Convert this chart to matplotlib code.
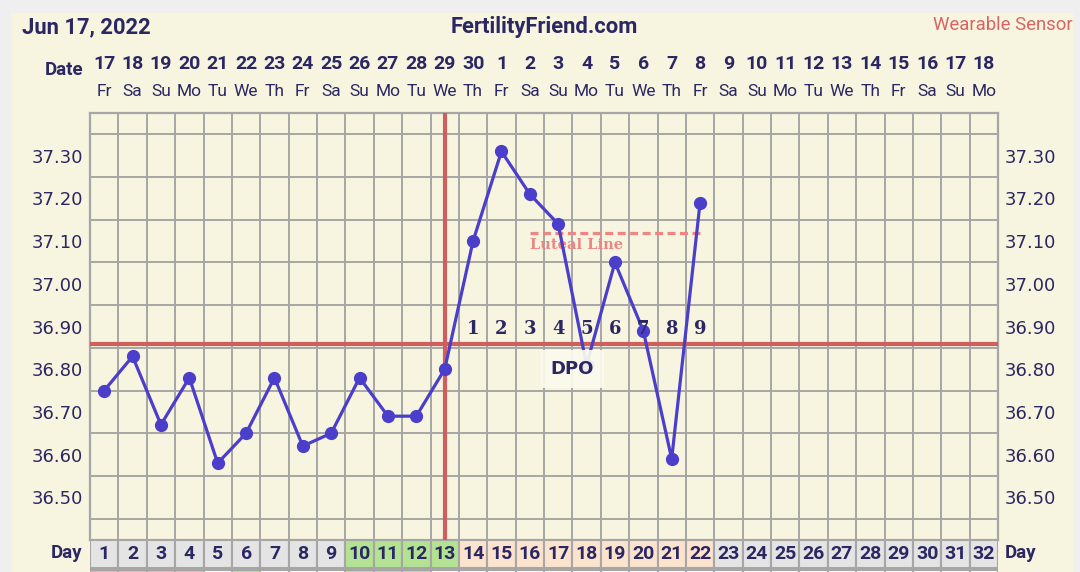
import numpy as np
import matplotlib
matplotlib.use('Agg')
import matplotlib.pyplot as plt
from matplotlib.patches import Rectangle
from matplotlib.transforms import blended_transform_factory

# chart data
days = list(range(1, 23))
temps = [36.75, 36.83, 36.67, 36.78, 36.58, 36.65, 36.78, 36.62, 36.65, 36.78, 36.69,
         36.69, 36.80, 37.10, 37.31, 37.21, 37.14, 36.81, 37.05, 36.89, 36.59, 37.19]
dates = [17, 18, 19, 20, 21, 22, 23, 24, 25, 26, 27, 28, 29, 30,
         1, 2, 3, 4, 5, 6, 7, 8, 9, 10, 11, 12, 13, 14, 15, 16, 17, 18]
weekdays = ['Fr', 'Sa', 'Su', 'Mo', 'Tu', 'We', 'Th'] * 5
weekdays = weekdays[:32]
coverline = 36.86
ovulation_day = 13
luteal_days = [16, 22]
luteal_temp = 37.12
dpo_days = list(range(14, 23))
dpo_labels = [str(i) for i in range(1, 10)]
ytick_vals = [36.50, 36.60, 36.70, 36.80, 36.90, 37.00, 37.10, 37.20, 37.30]
# day row colours: grey, fertile green, luteal peach
day_colors = ['#E4E4E4'] * 9 + ['#B3E293'] * 4 + ['#FCE3CD'] * 9 + ['#E4E4E4'] * 10
row2_colors = ['#EAB3C1'] * 4 + ['#FFFFFF', '#B3E293', '#FFFFFF', '#FFFFFF', '#FFFFFF'] \
    + ['#B3E293'] * 3 + ['#FFFFFF'] * 20

NAVY = '#2B2763'
CREAM = '#F7F5DF'
GRID = '#A6A6A6'
LINE = '#4A3ECB'
RED = '#CF5F5F'

W, H = 1080, 572
fig = plt.figure(figsize=(W / 100, H / 100), dpi=100, facecolor='#EFEFEF')
fig.patches.append(Rectangle((11 / W, 0), (1073 - 11) / W, 1 - 13 / H,
                             transform=fig.transFigure, facecolor=CREAM,
                             edgecolor='none', zorder=-10))

def px(x0, y0, x1, y1):
    return [x0 / W, 1 - y1 / H, (x1 - x0) / W, (y1 - y0) / H]

ax = fig.add_axes(px(90, 113, 998, 540))
ax.set_facecolor(CREAM)
ax.set_xlim(0.5, 32.5)
ax.set_ylim(36.40, 37.40)
ax.set_xticks([])
ax.set_xticks(np.arange(0.5, 33, 1), minor=True)
ax.set_yticks(ytick_vals)
ax.set_yticklabels(['%.2f' % v for v in ytick_vals])
ax.set_yticks(np.arange(36.40, 37.41, 0.05), minor=True)
ax.grid(which='minor', color=GRID, linewidth=1.4)
ax.tick_params(which='both', length=0)
ax.tick_params(axis='y', labelright=True, labelsize=13, labelcolor=NAVY, pad=5)
for s in ax.spines.values():
    s.set_color(GRID)
    s.set_linewidth(1.6)

ax.axhline(coverline, color=RED, linewidth=3, zorder=3)
ax.axvline(ovulation_day, color=RED, linewidth=3, zorder=3)

ax.plot(luteal_days, [luteal_temp] * 2, color='#EE8585', linewidth=2.3,
        dashes=(2.5, 1.4), zorder=3)
ax.text(luteal_days[0], luteal_temp - 0.012, 'Luteal Line', color='#EE8585',
        fontsize=10.5, fontweight='bold', family='DejaVu Serif', va='top', ha='left',
        zorder=4)

ax.plot(days, temps, color=LINE, linewidth=2.3, marker='o', markersize=8.5,
        zorder=5)

for d, lab in zip(dpo_days, dpo_labels):
    ax.text(d, 36.895, lab, color=NAVY, fontsize=13, fontweight='bold',
            family='DejaVu Serif', ha='center', va='center', zorder=6)
ax.text(17.5, 36.80, 'DPO', color=NAVY, fontsize=13, fontweight='bold',
        ha='center', va='center', zorder=7,
        bbox=dict(boxstyle='square,pad=0.55', facecolor='#FBFAEE',
                  edgecolor='none', alpha=0.92))

# header
fig.text(22 / W, 1 - 27 / H, 'Jun 17, 2022', color=NAVY, fontsize=15.8,
         fontweight='bold', family='Roboto', ha='left', va='center')
fig.text(544 / W, 1 - 27 / H, 'FertilityFriend.com', color=NAVY, fontsize=15.8,
         fontweight='bold', family='Roboto', ha='center', va='center')
fig.text(1073 / W, 1 - 25 / H, 'Wearable Sensor', color='#D96464', fontsize=13.3,
         family='Roboto', ha='right', va='center')

tr = blended_transform_factory(ax.transData, fig.transFigure)
fig.text(83 / W, 1 - 70 / H, 'Date', color=NAVY, fontsize=13.5, fontweight='bold',
         family='Roboto', ha='right', va='center')
for i, (dt, wd) in enumerate(zip(dates, weekdays)):
    ax.text(i + 1, 1 - 64 / H, str(dt), transform=tr, color=NAVY, fontsize=14,
            fontweight='bold', family='Roboto', ha='center', va='center')
    ax.text(i + 1, 1 - 92 / H, wd, transform=tr, color=NAVY, fontsize=12.5,
            family='Roboto', ha='center', va='center')

# day row
ax2 = fig.add_axes(px(90, 540, 998, 572))
ax2.set_xlim(0.5, 32.5)
ax2.set_ylim(32, 0)
ax2.axis('off')
for i in range(32):
    ax2.add_patch(Rectangle((i + 0.5, 0), 1, 28, facecolor=day_colors[i],
                            edgecolor=GRID, linewidth=1.5))
    ax2.add_patch(Rectangle((i + 0.5, 29.5), 1, 10, facecolor=row2_colors[i],
                            edgecolor=GRID, linewidth=1.5))
    ax2.text(i + 1, 14, str(i + 1), color=NAVY, fontsize=14, fontweight='bold',
             family='Roboto', ha='center', va='center')
fig.text(82 / W, 1 - 553 / H, 'Day', color=NAVY, fontsize=13.5, fontweight='bold',
         family='Roboto', ha='right', va='center')
fig.text(1005 / W, 1 - 553 / H, 'Day', color=NAVY, fontsize=13.5, fontweight='bold',
         family='Roboto', ha='left', va='center')

fig.savefig('out.png', dpi=100, facecolor=fig.get_facecolor())
